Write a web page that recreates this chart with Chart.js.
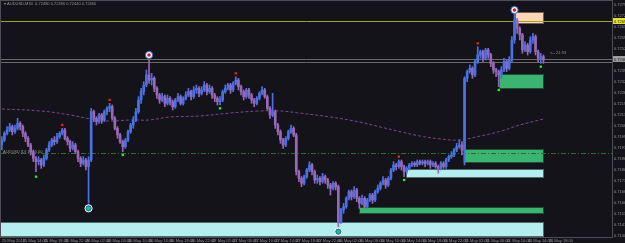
<!DOCTYPE html>
<html>
<head>
<meta charset="utf-8">
<script src="https://cdn.jsdelivr.net/npm/chart.js@4/dist/chart.umd.min.js"></script>
<style>
  html, body { margin: 0; padding: 0; background: #131319; }
  #c { display: block; }
</style>
</head>
<body>
<canvas id="c" width="625" height="243"></canvas>
<script>
// AUDUSD M30, 25 May 10:00 -> 31 May ~17:00 (one value per bar)
const opens = [
  0.7195,0.7198,0.7202,0.7204,0.7206,0.7203,0.7205,0.7208,0.7206,0.7202,
  0.7199,0.7195,0.7191,0.7187,0.7185,0.7186,0.7183,0.7187,0.7192,0.7195,
  0.7198,0.7197,0.7200,0.7202,0.7204,0.7199,0.7197,0.7193,0.7195,0.7191,
  0.7187,0.7184,0.7186,0.7182,0.7186,0.7215,0.7211,0.7209,0.7213,0.7210,
  0.7215,0.7217,0.7218,0.7211,0.7205,0.7201,0.7197,0.7194,0.7198,0.7203,
  0.7207,0.7210,0.7215,0.7222,0.7227,0.7231,0.7237,0.7234,0.7235,0.7229,
  0.7225,0.7222,0.7224,0.7220,0.7223,0.7221,0.7218,0.7222,0.7224,0.7220,
  0.7223,0.7225,0.7227,0.7224,0.7228,0.7229,0.7226,0.7228,0.7231,0.7227,
  0.7229,0.7225,0.7223,0.7221,0.7222,0.7227,0.7229,0.7231,0.7228,0.7232,
  0.7234,0.7230,0.7227,0.7224,0.7228,0.7225,0.7222,0.7220,0.7223,0.7226,
  0.7228,0.7224,0.7217,0.7213,0.7215,0.7207,0.7203,0.7198,0.7195,0.7199,
  0.7203,0.7205,0.7201,0.7179,0.7175,0.7172,0.7176,0.7180,0.7183,0.7179,
  0.7174,0.7175,0.7173,0.7176,0.7174,0.7171,0.7169,0.7172,0.7170,0.7149,
  0.7156,0.7158,0.7163,0.7167,0.7164,0.7168,0.7163,0.7160,0.7163,0.7158,
  0.7162,0.7165,0.7162,0.7167,0.7169,0.7172,0.7174,0.7171,0.7175,0.7180,
  0.7183,0.7182,0.7185,0.7182,0.7179,0.7181,0.7183,0.7184,0.7183,0.7185,
  0.7184,0.7185,0.7184,0.7185,0.7183,0.7184,0.7182,0.7181,0.7184,0.7182,
  0.7186,0.7188,0.7189,0.7192,0.7194,0.7195,0.7192,0.7235,0.7239,0.7241,
  0.7237,0.7245,0.7249,0.7251,0.7247,0.7252,0.7249,0.7244,0.7240,0.7239,
  0.7237,0.7240,0.7245,0.7241,0.7246,0.7258,0.7270,0.7265,0.7261,0.7252,
  0.7255,0.7251,0.7258,0.7260,0.7251,0.7247,0.7248
];
const highs = [
  0.7200,0.7203,0.7206,0.7208,0.7207,0.7207,0.7211,0.7209,0.7207,0.7203,
  0.7200,0.7196,0.7192,0.7188,0.7188,0.7187,0.7189,0.7193,0.7197,0.7199,
  0.7200,0.7202,0.7203,0.7205,0.7205,0.7200,0.7198,0.7197,0.7196,0.7192,
  0.7188,0.7188,0.7187,0.7188,0.7217,0.7216,0.7212,0.7214,0.7214,0.7216,
  0.7218,0.7220,0.7219,0.7212,0.7206,0.7202,0.7198,0.7199,0.7204,0.7208,
  0.7212,0.7217,0.7224,0.7229,0.7233,0.7240,0.7246,0.7238,0.7236,0.7230,
  0.7226,0.7226,0.7225,0.7225,0.7224,0.7222,0.7223,0.7226,0.7225,0.7224,
  0.7227,0.7229,0.7228,0.7230,0.7231,0.7230,0.7230,0.7233,0.7232,0.7231,
  0.7230,0.7226,0.7224,0.7224,0.7228,0.7231,0.7232,0.7232,0.7233,0.7236,
  0.7235,0.7231,0.7228,0.7229,0.7229,0.7226,0.7223,0.7224,0.7227,0.7230,
  0.7229,0.7225,0.7218,0.7226,0.7216,0.7208,0.7204,0.7199,0.7200,0.7204,
  0.7207,0.7206,0.7202,0.7180,0.7176,0.7177,0.7181,0.7185,0.7184,0.7180,
  0.7177,0.7176,0.7178,0.7177,0.7175,0.7172,0.7173,0.7173,0.7171,0.7157,
  0.7160,0.7164,0.7168,0.7168,0.7170,0.7169,0.7164,0.7165,0.7164,0.7163,
  0.7166,0.7166,0.7168,0.7171,0.7173,0.7176,0.7175,0.7176,0.7181,0.7185,
  0.7184,0.7186,0.7186,0.7183,0.7182,0.7184,0.7185,0.7185,0.7186,0.7186,
  0.7186,0.7186,0.7186,0.7186,0.7185,0.7185,0.7183,0.7185,0.7185,0.7187,
  0.7189,0.7191,0.7193,0.7196,0.7198,0.7197,0.7236,0.7240,0.7243,0.7242,
  0.7246,0.7254,0.7252,0.7252,0.7253,0.7253,0.7250,0.7245,0.7241,0.7240,
  0.7242,0.7247,0.7246,0.7248,0.7260,0.7274,0.7271,0.7266,0.7262,0.7257,
  0.7256,0.7260,0.7262,0.7261,0.7252,0.7250,0.7249
];
const lows = [
  0.7192,0.7197,0.7201,0.7203,0.7201,0.7202,0.7204,0.7204,0.7200,0.7197,
  0.7194,0.7189,0.7185,0.7179,0.7183,0.7181,0.7182,0.7186,0.7191,0.7194,
  0.7195,0.7196,0.7199,0.7201,0.7198,0.7195,0.7191,0.7192,0.7190,0.7185,
  0.7182,0.7183,0.7180,0.7160,0.7185,0.7209,0.7207,0.7208,0.7208,0.7209,
  0.7213,0.7215,0.7210,0.7204,0.7199,0.7196,0.7191,0.7193,0.7197,0.7202,
  0.7205,0.7209,0.7214,0.7220,0.7225,0.7230,0.7232,0.7231,0.7227,0.7223,
  0.7220,0.7221,0.7218,0.7219,0.7219,0.7216,0.7217,0.7221,0.7219,0.7219,
  0.7222,0.7224,0.7222,0.7223,0.7226,0.7224,0.7225,0.7227,0.7225,0.7226,
  0.7223,0.7221,0.7219,0.7219,0.7221,0.7226,0.7228,0.7226,0.7227,0.7231,
  0.7228,0.7225,0.7222,0.7223,0.7223,0.7220,0.7218,0.7219,0.7222,0.7225,
  0.7223,0.7216,0.7211,0.7212,0.7205,0.7201,0.7196,0.7193,0.7194,0.7198,
  0.7202,0.7200,0.7177,0.7173,0.7170,0.7171,0.7175,0.7179,0.7177,0.7172,
  0.7172,0.7171,0.7172,0.7172,0.7169,0.7165,0.7168,0.7168,0.7146,0.7148,
  0.7154,0.7157,0.7162,0.7162,0.7163,0.7161,0.7157,0.7159,0.7157,0.7157,
  0.7161,0.7160,0.7161,0.7166,0.7168,0.7171,0.7169,0.7170,0.7174,0.7179,
  0.7180,0.7181,0.7180,0.7176,0.7178,0.7180,0.7182,0.7182,0.7182,0.7183,
  0.7183,0.7182,0.7183,0.7181,0.7182,0.7181,0.7178,0.7180,0.7181,0.7181,
  0.7185,0.7187,0.7188,0.7191,0.7193,0.7189,0.7183,0.7233,0.7238,0.7235,
  0.7236,0.7244,0.7247,0.7245,0.7246,0.7247,0.7242,0.7238,0.7236,0.7230,
  0.7235,0.7239,0.7239,0.7240,0.7245,0.7256,0.7262,0.7258,0.7250,0.7251,
  0.7249,0.7250,0.7256,0.7249,0.7245,0.7244,0.7244
];
const closes = [
  0.7198,0.7202,0.7204,0.7206,0.7203,0.7205,0.7208,0.7206,0.7202,0.7199,
  0.7195,0.7191,0.7187,0.7185,0.7186,0.7183,0.7187,0.7192,0.7195,0.7198,
  0.7197,0.7200,0.7202,0.7204,0.7199,0.7197,0.7193,0.7195,0.7191,0.7187,
  0.7184,0.7186,0.7182,0.7186,0.7215,0.7211,0.7209,0.7213,0.7210,0.7215,
  0.7217,0.7218,0.7211,0.7205,0.7201,0.7197,0.7194,0.7198,0.7203,0.7207,
  0.7210,0.7215,0.7222,0.7227,0.7231,0.7237,0.7234,0.7235,0.7229,0.7225,
  0.7222,0.7224,0.7220,0.7223,0.7221,0.7218,0.7222,0.7224,0.7220,0.7223,
  0.7225,0.7227,0.7224,0.7228,0.7229,0.7226,0.7228,0.7231,0.7227,0.7229,
  0.7225,0.7223,0.7221,0.7222,0.7227,0.7229,0.7231,0.7228,0.7232,0.7234,
  0.7230,0.7227,0.7224,0.7228,0.7225,0.7222,0.7220,0.7223,0.7226,0.7228,
  0.7224,0.7217,0.7213,0.7215,0.7207,0.7203,0.7198,0.7195,0.7199,0.7203,
  0.7205,0.7201,0.7179,0.7175,0.7172,0.7176,0.7180,0.7183,0.7179,0.7174,
  0.7175,0.7173,0.7176,0.7174,0.7171,0.7169,0.7172,0.7170,0.7149,0.7156,
  0.7158,0.7163,0.7167,0.7164,0.7168,0.7163,0.7160,0.7163,0.7158,0.7162,
  0.7165,0.7162,0.7167,0.7169,0.7172,0.7174,0.7171,0.7175,0.7180,0.7183,
  0.7182,0.7185,0.7182,0.7179,0.7181,0.7183,0.7184,0.7183,0.7185,0.7184,
  0.7185,0.7184,0.7185,0.7183,0.7184,0.7182,0.7181,0.7184,0.7182,0.7186,
  0.7188,0.7189,0.7192,0.7194,0.7195,0.7192,0.7235,0.7239,0.7241,0.7237,
  0.7245,0.7249,0.7251,0.7247,0.7252,0.7249,0.7244,0.7240,0.7239,0.7237,
  0.7240,0.7245,0.7241,0.7246,0.7258,0.7270,0.7265,0.7261,0.7252,0.7255,
  0.7251,0.7258,0.7260,0.7251,0.7247,0.7248,0.7246
];

// moving average (read at a few bars)
const maBars = [0, 15, 26, 34, 41, 49, 56, 64, 75, 87, 98, 106, 113, 125, 136, 144, 152, 159, 167, 174, 182, 190, 197, 206];
const maValues = [0.72166, 0.72154, 0.72130, 0.72106, 0.72094, 0.72100, 0.72100, 0.72118, 0.72124, 0.72142, 0.72154, 0.72154,
  0.72142, 0.72118, 0.72088, 0.72058, 0.72028, 0.72004, 0.71986, 0.71980, 0.72004, 0.72034, 0.72070, 0.72106];

// fractal marks
const upFractalBars = [23, 41, 89, 151, 181];
const upFractalValues = [0.7207, 0.7222, 0.7238, 0.7188, 0.7256];
const downFractalBars = [13, 46, 83, 153, 189, 205];
const downFractalValues = [0.7176, 0.7189, 0.7217, 0.7174, 0.7228, 0.7242];
const sellSignalBars = [56, 195];
const sellSignalValues = [0.7249, 0.7276];
const buySignalBars = [33, 128];
const buySignalValues = [0.7157, 0.7143];

// supply / demand zones: first bar, last bar, top, bottom
const zoneFrom = [195.1, 189.0, 175.3, 153.6, 135.7, -1];
const zoneTo = [206.3, 206.3, 206.3, 206.3, 206.3, 206.3];
const zoneTop = [0.72748, 0.72376, 0.71926, 0.71806, 0.71578, 0.71488];
const zoneBottom = [0.72676, 0.72286, 0.71842, 0.71752, 0.71536, 0.71399];
const zoneColors = ['#fdd7b6', '#3cb371', '#3cb371', '#b4eeee', '#3cb371', '#b4eeee'];

// horizontal levels
const levelPrice = 0.72694;
const askPrice = 0.72448;
const bidPrice = 0.72466;
const dailyLevel = 0.71902;

// axis labels
const timeLabels = ['25 May 2016', '25 May 14:00', '25 May 18:00', '25 May 22:00', '26 May 02:00', '26 May 06:00',
  '26 May 10:00', '26 May 14:00', '26 May 18:00', '26 May 22:00', '27 May 02:00', '27 May 06:00', '27 May 10:00',
  '27 May 14:00', '27 May 18:00', '27 May 22:00', '30 May 02:00', '30 May 06:00', '30 May 10:00', '30 May 14:00',
  '30 May 18:00', '30 May 22:00', '31 May 02:00', '31 May 06:00', '31 May 10:00', '31 May 14:00', '31 May 18:00'];
const barsPerLabel = 8;
const priceTicks = [0.72790, 0.72724, 0.72658, 0.72592, 0.72526, 0.72460, 0.72394, 0.72328, 0.72262, 0.72196,
  0.72130, 0.72064, 0.71998, 0.71932, 0.71866, 0.71800, 0.71734, 0.71668, 0.71602, 0.71536, 0.71470, 0.71404];

const BULL = '#4a72e6';
const BEAR = '#9a68b8';
const TXT = '#959595';
const FONT = '"Liberation Sans", Arial, sans-serif';

const candleColor = (c) => closes[c.dataIndex] >= opens[c.dataIndex] ? BULL : BEAR;
const pts = (bars, vals) => bars.map((b, k) => ({ x: b, y: vals[k] }));

// Fond, zones et lignes horizontales
const overlay = {
  id: 'overlay',
  beforeDraw(chart) {
    const ctx = chart.ctx;
    ctx.save();
    ctx.fillStyle = '#131319';
    ctx.fillRect(0, 0, chart.width, chart.height);
    ctx.restore();
  },
  beforeDatasetsDraw(chart) {
    const { ctx, chartArea: a, scales: { x, y } } = chart;
    ctx.save();
    ctx.beginPath();
    ctx.rect(a.left, a.top, a.right - a.left, a.bottom - a.top);
    ctx.clip();

    zoneFrom.forEach((f, k) => {
      const x0 = Math.round(x.getPixelForValue(f));
      const x1 = Math.round(x.getPixelForValue(zoneTo[k]));
      const y0 = Math.round(y.getPixelForValue(zoneTop[k]));
      const y1 = Math.round(y.getPixelForValue(zoneBottom[k]));
      ctx.fillStyle = zoneColors[k];
      ctx.fillRect(x0, y0, x1 - x0, y1 - y0);
      ctx.strokeStyle = 'rgba(0,0,0,0.55)';
      ctx.lineWidth = 1;
      ctx.strokeRect(x0 + 0.5, y0 + 0.5, x1 - x0 - 1, y1 - y0 - 1);
    });

    const hline = (p, color, dash) => {
      const yy = Math.round(y.getPixelForValue(p)) + 0.5;
      ctx.strokeStyle = color;
      ctx.lineWidth = 1;
      ctx.setLineDash(dash);
      ctx.beginPath();
      ctx.moveTo(a.left, yy);
      ctx.lineTo(a.right, yy);
      ctx.stroke();
    };
    hline(dailyLevel, '#24702f', [5, 2, 1, 2]);
    hline(askPrice, '#6a6a6a', []);
    hline(bidPrice, '#6a6a6a', []);
    hline(levelPrice, '#a3a325', []);
    ctx.setLineDash([]);

    ctx.font = '4px ' + FONT;
    ctx.fillStyle = TXT;
    ctx.textBaseline = 'middle';
    ctx.fillText('AUDUSD [D] Jun 5.00', a.left + 2, y.getPixelForValue(dailyLevel) - 1);
    ctx.fillText('<-- 21:93', 550, y.getPixelForValue(bidPrice) - 6);
    ctx.restore();
  },
  afterDraw(chart) {
    const { ctx, chartArea: a, scales: { y } } = chart;
    ctx.save();
    // cadre
    ctx.strokeStyle = '#4d4d55';
    ctx.lineWidth = 1;
    ctx.strokeRect(0.5, 0.5, a.right, a.bottom);

    ctx.font = '4px ' + FONT;
    ctx.textBaseline = 'middle';
    ctx.fillStyle = TXT;
    ctx.fillText('\u25BE AUDUSD,M30  0.72480 0.72490 0.72440 0.72460', 4, 4);

    // étiquettes sur l'axe des prix
    const tag = (p, bg, fg) => {
      const yy = Math.round(y.getPixelForValue(p));
      ctx.fillStyle = bg;
      ctx.fillRect(a.right + 1, yy - 3, chart.width - a.right, 6);
      ctx.fillStyle = fg;
      ctx.fillText(p.toFixed(5), a.right + 2, yy + 0.5);
    };
    tag(levelPrice, '#e4e42a', '#202020');
    tag(bidPrice, '#9d9d9d', '#202020');
    ctx.restore();
  }
};

new Chart(document.getElementById('c'), {
  type: 'bar',
  data: {
    datasets: [
      {
        type: 'line', order: 6,
        data: pts(maBars, maValues),
        borderColor: '#7c4394', borderWidth: 1, borderDash: [3, 2],
        pointRadius: 0, tension: 0.4, fill: false
      },
      {
        order: 5, grouped: false,
        data: opens.map((_, i) => ({ x: i, y: [lows[i], highs[i]] })),
        backgroundColor: candleColor, barThickness: 1, borderWidth: 0
      },
      {
        order: 4, grouped: false,
        data: opens.map((o, i) => ({ x: i, y: [o, closes[i]] })),
        backgroundColor: candleColor, barThickness: 2, borderWidth: 0, minBarLength: 1
      },
      {
        type: 'scatter', order: 3,
        data: pts(upFractalBars, upFractalValues),
        pointStyle: 'rect', pointRadius: 1.6, backgroundColor: '#ff1a1a', borderWidth: 0
      },
      {
        type: 'scatter', order: 3,
        data: pts(downFractalBars, downFractalValues),
        pointStyle: 'rect', pointRadius: 1.6, backgroundColor: '#19ff19', borderWidth: 0
      },
      {
        type: 'scatter', order: 2,
        data: pts(sellSignalBars, sellSignalValues),
        pointStyle: 'circle', pointRadius: 3.6, backgroundColor: '#ffffff', borderColor: '#2f6fe0', borderWidth: 1
      },
      {
        type: 'scatter', order: 1,
        data: pts(sellSignalBars, sellSignalValues),
        pointStyle: 'circle', pointRadius: 1.8, backgroundColor: '#e01818', borderWidth: 0
      },
      {
        type: 'scatter', order: 2,
        data: pts(buySignalBars, buySignalValues),
        pointStyle: 'circle', pointRadius: 3.6, backgroundColor: '#2f6fe0', borderColor: '#ffffff', borderWidth: 1
      },
      {
        type: 'scatter', order: 1,
        data: pts(buySignalBars, buySignalValues),
        pointStyle: 'circle', pointRadius: 1.8, backgroundColor: '#1cd61c', borderWidth: 0
      }
    ]
  },
  options: {
    responsive: false,
    animation: false,
    devicePixelRatio: 1,
    layout: { autoPadding: false, padding: { left: 1, top: 3, right: 0, bottom: 0 } },
    plugins: { legend: { display: false }, tooltip: { enabled: false } },
    scales: {
      x: {
        type: 'linear', min: -0.3, max: 232.08, offset: false,
        grid: { display: false, drawTicks: false, tickLength: 0 },
        border: { display: true, color: '#4d4d55' },
        afterBuildTicks: (s) => { s.ticks = timeLabels.map((_, k) => ({ value: k * barsPerLabel })); },
        afterFit: (s) => { s.height = 6; s.paddingLeft = 0; s.paddingRight = 0; },
        ticks: {
          autoSkip: false, maxRotation: 0, align: 'start', padding: 1,
          color: TXT, font: { size: 4, family: FONT },
          callback: (v) => timeLabels[v / barsPerLabel]
        }
      },
      y: {
        position: 'right', min: 0.71398, max: 0.72802,
        grid: { display: false, drawTicks: false, tickLength: 0 },
        border: { display: true, color: '#4d4d55' },
        afterBuildTicks: (s) => { s.ticks = priceTicks.map(v => ({ value: v })); },
        afterFit: (s) => { s.width = 13; s.paddingTop = 0; s.paddingBottom = 0; },
        ticks: {
          padding: 2, color: TXT, font: { size: 4, family: FONT },
          callback: (v) => v.toFixed(5)
        }
      }
    }
  },
  plugins: [overlay]
});
</script>
</body>
</html>
